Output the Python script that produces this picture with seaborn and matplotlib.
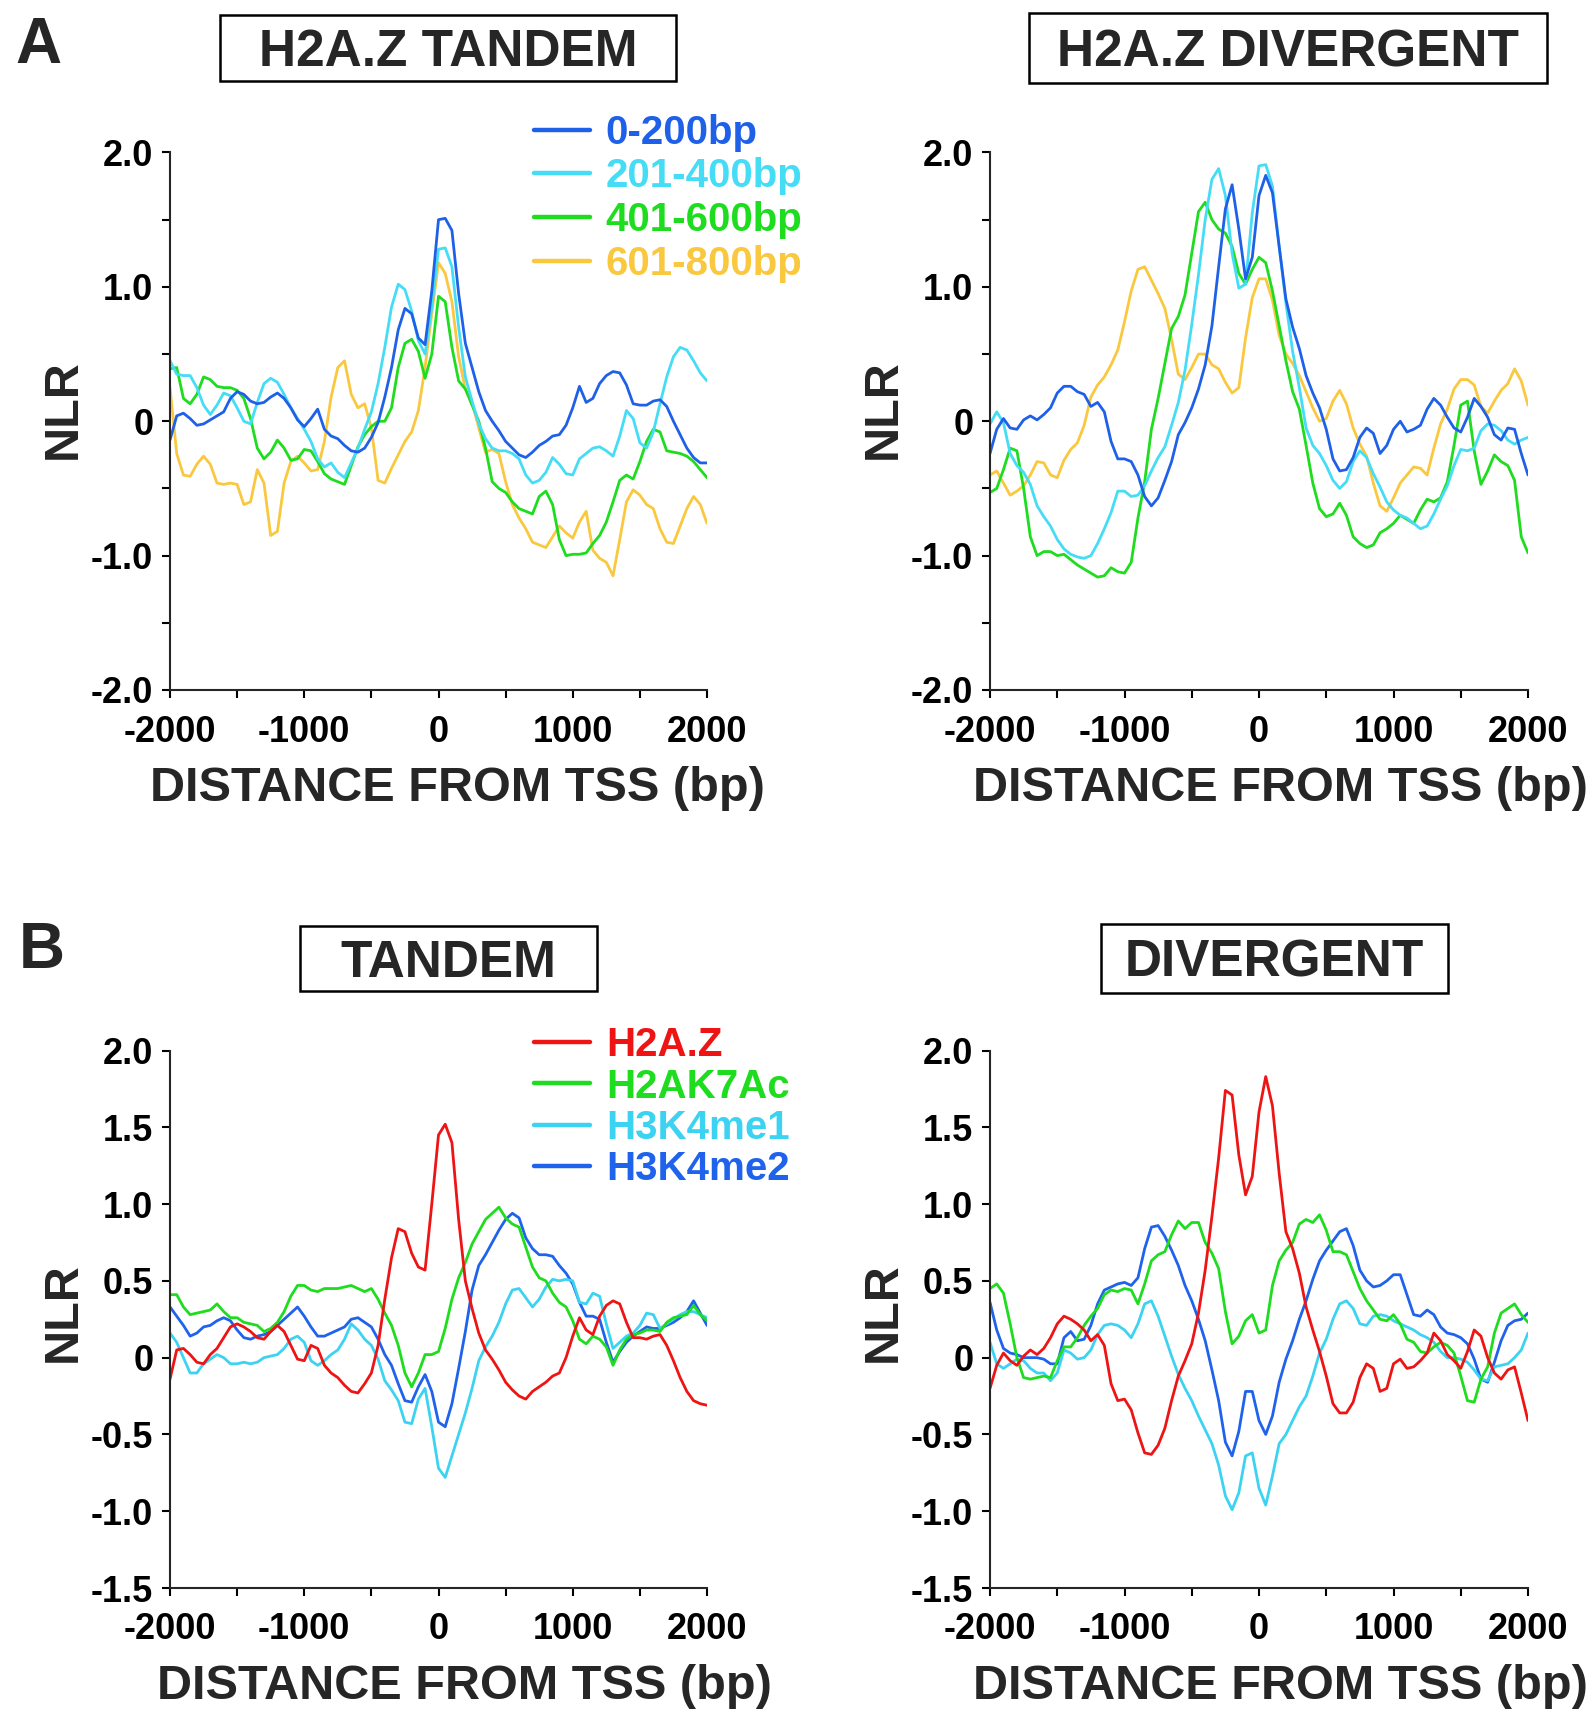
import numpy as np
import pandas as pd
import matplotlib
matplotlib.use("Agg")
import matplotlib.pyplot as plt
import seaborn as sns
from matplotlib.lines import Line2D
from matplotlib.patches import Rectangle

# ---------------- data (NLR vs distance from TSS, 50 bp steps) ----------------
distance = list(range(-2000, 2001, 50))

# Panel A - H2A.Z TANDEM (by intergenic distance)
a_tandem_0_200 = [
    -0.14, 0.04, 0.06, 0.02, -0.03, -0.02, 0.01, 0.04, 0.07, 0.17,
    0.22, 0.20, 0.15, 0.13, 0.14, 0.18, 0.21, 0.17, 0.10, 0.01,
    -0.04, 0.02, 0.09, -0.06, -0.11, -0.13, -0.18, -0.22, -0.23, -0.20,
    -0.12, -0.01, 0.18, 0.40, 0.68, 0.84, 0.80, 0.62, 0.57, 0.97,
    1.50, 1.51, 1.42, 0.95, 0.58, 0.40, 0.22, 0.08, 0.00, -0.07,
    -0.15, -0.20, -0.25, -0.27, -0.23, -0.18, -0.15, -0.11, -0.10, -0.03,
    0.10, 0.26, 0.14, 0.17, 0.28, 0.34, 0.37, 0.36, 0.27, 0.13,
    0.12, 0.12, 0.15, 0.16, 0.11, 0.00, -0.10, -0.20, -0.27, -0.31,
    -0.31]
a_tandem_201_400 = [
    0.45, 0.35, 0.34, 0.34, 0.25, 0.12, 0.05, 0.12, 0.21, 0.19,
    0.10, 0.00, -0.02, 0.14, 0.28, 0.32, 0.29, 0.20, 0.10, 0.02,
    -0.06, -0.15, -0.28, -0.34, -0.31, -0.38, -0.42, -0.31, -0.20, -0.06,
    0.07, 0.28, 0.55, 0.85, 1.02, 0.98, 0.82, 0.60, 0.50, 0.85,
    1.28, 1.29, 1.15, 0.70, 0.33, 0.15, -0.02, -0.13, -0.20, -0.22,
    -0.22, -0.24, -0.28, -0.40, -0.46, -0.44, -0.38, -0.27, -0.32, -0.39,
    -0.40, -0.28, -0.24, -0.20, -0.19, -0.22, -0.26, -0.11, 0.08, 0.02,
    -0.16, -0.20, -0.08, 0.13, 0.33, 0.48, 0.55, 0.53, 0.45, 0.36,
    0.30]
a_tandem_401_600 = [
    0.39, 0.40, 0.17, 0.13, 0.20, 0.33, 0.31, 0.26, 0.25, 0.25,
    0.23, 0.17, 0.02, -0.20, -0.28, -0.23, -0.14, -0.20, -0.29, -0.28,
    -0.21, -0.22, -0.30, -0.39, -0.43, -0.45, -0.47, -0.33, -0.19, -0.10,
    -0.04, 0.00, 0.00, 0.10, 0.40, 0.58, 0.61, 0.52, 0.32, 0.50,
    0.93, 0.89, 0.55, 0.30, 0.24, 0.12, 0.00, -0.20, -0.45, -0.50,
    -0.53, -0.60, -0.65, -0.67, -0.69, -0.56, -0.52, -0.62, -0.88, -1.00,
    -0.99, -0.99, -0.98, -0.91, -0.85, -0.75, -0.60, -0.44, -0.40, -0.43,
    -0.30, -0.15, -0.06, -0.08, -0.22, -0.23, -0.24, -0.26, -0.30, -0.36,
    -0.42]
a_tandem_601_800 = [
    0.25, -0.24, -0.40, -0.41, -0.32, -0.26, -0.32, -0.46, -0.47, -0.46,
    -0.47, -0.62, -0.60, -0.36, -0.46, -0.85, -0.82, -0.46, -0.30, -0.26,
    -0.31, -0.37, -0.36, -0.15, 0.18, 0.40, 0.45, 0.20, 0.10, 0.13,
    -0.05, -0.44, -0.46, -0.35, -0.25, -0.15, -0.08, 0.08, 0.40, 0.80,
    1.18, 1.10, 0.89, 0.48, 0.24, 0.14, -0.05, -0.23, -0.21, -0.24,
    -0.45, -0.62, -0.72, -0.80, -0.90, -0.92, -0.94, -0.86, -0.78, -0.83,
    -0.87, -0.75, -0.67, -0.96, -1.02, -1.05, -1.15, -0.88, -0.60, -0.51,
    -0.55, -0.62, -0.65, -0.80, -0.90, -0.91, -0.78, -0.65, -0.56, -0.62,
    -0.76]

# Panel A - H2A.Z DIVERGENT
a_div_0_200 = [
    -0.24, -0.06, 0.02, -0.05, -0.06, 0.01, 0.04, 0.01, 0.05, 0.10,
    0.21, 0.26, 0.26, 0.22, 0.20, 0.11, 0.14, 0.07, -0.15, -0.28,
    -0.28, -0.30, -0.40, -0.56, -0.63, -0.57, -0.44, -0.30, -0.10, -0.01,
    0.10, 0.24, 0.42, 0.71, 1.15, 1.58, 1.76, 1.43, 1.06, 1.22,
    1.68, 1.83, 1.70, 1.30, 0.91, 0.70, 0.54, 0.34, 0.21, 0.10,
    -0.06, -0.28, -0.37, -0.36, -0.27, -0.12, -0.05, -0.09, -0.24, -0.18,
    -0.06, 0.00, -0.08, -0.06, -0.03, 0.09, 0.17, 0.12, 0.03, -0.05,
    -0.08, 0.03, 0.17, 0.11, 0.03, -0.10, -0.14, -0.05, -0.06, -0.24,
    -0.40]
a_div_201_400 = [
    -0.02, 0.07, -0.01, -0.24, -0.33, -0.38, -0.47, -0.63, -0.71, -0.78,
    -0.88, -0.95, -0.99, -1.01, -1.02, -1.00, -0.91, -0.80, -0.68, -0.52,
    -0.52, -0.56, -0.55, -0.48, -0.37, -0.27, -0.19, -0.03, 0.14, 0.38,
    0.72, 1.09, 1.50, 1.80, 1.88, 1.68, 1.25, 0.99, 1.02, 1.55,
    1.90, 1.91, 1.75, 1.30, 0.88, 0.52, 0.25, -0.05, -0.18, -0.24,
    -0.33, -0.44, -0.50, -0.45, -0.30, -0.22, -0.27, -0.39, -0.49, -0.60,
    -0.66, -0.70, -0.72, -0.76, -0.80, -0.78, -0.69, -0.58, -0.48, -0.33,
    -0.21, -0.22, -0.20, -0.07, -0.02, -0.03, -0.07, -0.14, -0.17, -0.14,
    -0.12]
a_div_401_600 = [
    -0.53, -0.50, -0.36, -0.20, -0.22, -0.50, -0.86, -1.00, -0.97, -0.97,
    -1.00, -0.99, -1.03, -1.07, -1.10, -1.13, -1.16, -1.15, -1.09, -1.12,
    -1.13, -1.05, -0.72, -0.45, -0.06, 0.17, 0.43, 0.69, 0.78, 0.94,
    1.25, 1.56, 1.63, 1.50, 1.43, 1.40, 1.30, 1.10, 1.02, 1.13,
    1.22, 1.18, 0.97, 0.71, 0.45, 0.22, 0.09, -0.18, -0.46, -0.65,
    -0.71, -0.69, -0.61, -0.70, -0.86, -0.91, -0.94, -0.92, -0.83, -0.80,
    -0.76, -0.70, -0.73, -0.76, -0.66, -0.58, -0.60, -0.57, -0.45, -0.18,
    0.12, 0.15, -0.22, -0.47, -0.37, -0.25, -0.30, -0.33, -0.44, -0.86,
    -0.98]
a_div_601_800 = [
    -0.40, -0.37, -0.46, -0.55, -0.52, -0.48, -0.40, -0.30, -0.31, -0.40,
    -0.42, -0.29, -0.21, -0.16, -0.03, 0.18, 0.27, 0.33, 0.42, 0.53,
    0.74, 0.97, 1.13, 1.15, 1.05, 0.95, 0.84, 0.61, 0.35, 0.31,
    0.40, 0.50, 0.50, 0.42, 0.39, 0.29, 0.21, 0.25, 0.62, 0.92,
    1.06, 1.06, 0.90, 0.64, 0.50, 0.43, 0.34, 0.22, 0.10, 0.00,
    0.02, 0.15, 0.23, 0.13, -0.05, -0.17, -0.26, -0.46, -0.63, -0.67,
    -0.57, -0.46, -0.40, -0.34, -0.35, -0.40, -0.20, -0.02, 0.09, 0.24,
    0.31, 0.31, 0.27, 0.11, 0.06, 0.15, 0.23, 0.28, 0.39, 0.30,
    0.12]

# Panel B - TANDEM (marks)
b_tandem_h2az = [
    -0.14, 0.05, 0.06, 0.02, -0.03, -0.04, 0.02, 0.06, 0.13, 0.20,
    0.22, 0.20, 0.17, 0.13, 0.12, 0.17, 0.21, 0.17, 0.08, -0.01,
    -0.02, 0.08, 0.06, -0.05, -0.10, -0.13, -0.18, -0.22, -0.23, -0.17,
    -0.10, 0.08, 0.38, 0.65, 0.84, 0.82, 0.68, 0.59, 0.57, 1.00,
    1.45, 1.52, 1.40, 0.90, 0.50, 0.32, 0.16, 0.05, -0.01, -0.08,
    -0.16, -0.21, -0.25, -0.27, -0.22, -0.19, -0.16, -0.12, -0.10, 0.00,
    0.14, 0.26, 0.18, 0.15, 0.27, 0.34, 0.37, 0.35, 0.23, 0.13,
    0.13, 0.12, 0.14, 0.15, 0.08, -0.02, -0.13, -0.22, -0.28, -0.30,
    -0.31]
b_tandem_h2ak7ac = [
    0.41, 0.41, 0.33, 0.28, 0.29, 0.30, 0.31, 0.35, 0.30, 0.26,
    0.26, 0.23, 0.22, 0.21, 0.17, 0.19, 0.23, 0.30, 0.40, 0.47,
    0.47, 0.44, 0.43, 0.45, 0.45, 0.45, 0.46, 0.47, 0.45, 0.43,
    0.45, 0.38, 0.29, 0.21, 0.08, -0.10, -0.19, -0.10, 0.02, 0.02,
    0.04, 0.19, 0.38, 0.52, 0.62, 0.74, 0.82, 0.90, 0.94, 0.98,
    0.91, 0.87, 0.85, 0.72, 0.59, 0.52, 0.50, 0.42, 0.36, 0.33,
    0.24, 0.12, 0.09, 0.14, 0.12, 0.07, -0.05, 0.05, 0.12, 0.15,
    0.16, 0.18, 0.18, 0.17, 0.23, 0.26, 0.27, 0.28, 0.34, 0.28,
    0.24]
b_tandem_h3k4me1 = [
    0.16, 0.10, 0.00, -0.10, -0.10, -0.04, -0.01, 0.02, 0.00, -0.04,
    -0.04, -0.03, -0.04, -0.03, 0.00, 0.01, 0.02, 0.06, 0.12, 0.14,
    0.10, -0.02, -0.05, -0.02, 0.02, 0.05, 0.12, 0.22, 0.18, 0.12,
    0.08, -0.01, -0.15, -0.21, -0.28, -0.42, -0.43, -0.27, -0.20, -0.45,
    -0.72, -0.78, -0.64, -0.50, -0.36, -0.20, -0.02, 0.07, 0.14, 0.23,
    0.35, 0.44, 0.45, 0.39, 0.33, 0.38, 0.46, 0.51, 0.50, 0.51,
    0.50, 0.36, 0.35, 0.42, 0.40, 0.22, 0.06, 0.10, 0.14, 0.16,
    0.21, 0.29, 0.28, 0.19, 0.22, 0.25, 0.28, 0.30, 0.30, 0.28,
    0.26]
b_tandem_h3k4me2 = [
    0.33, 0.27, 0.21, 0.14, 0.16, 0.20, 0.21, 0.24, 0.26, 0.24,
    0.18, 0.13, 0.12, 0.14, 0.15, 0.17, 0.21, 0.25, 0.29, 0.33,
    0.27, 0.20, 0.14, 0.14, 0.16, 0.18, 0.20, 0.25, 0.26, 0.23,
    0.20, 0.12, 0.02, -0.05, -0.17, -0.28, -0.29, -0.19, -0.11, -0.22,
    -0.42, -0.45, -0.30, -0.07, 0.17, 0.44, 0.60, 0.67, 0.75, 0.83,
    0.90, 0.94, 0.91, 0.78, 0.71, 0.67, 0.67, 0.66, 0.60, 0.55,
    0.48, 0.36, 0.27, 0.27, 0.25, 0.10, -0.03, 0.04, 0.10, 0.14,
    0.17, 0.20, 0.19, 0.19, 0.21, 0.23, 0.26, 0.30, 0.37, 0.29,
    0.21]

# Panel B - DIVERGENT (marks)
b_div_h2az = [
    -0.20, -0.05, 0.03, -0.02, -0.05, 0.01, 0.05, 0.02, 0.06, 0.13,
    0.22, 0.27, 0.25, 0.22, 0.18, 0.11, 0.15, 0.08, -0.17, -0.28,
    -0.27, -0.34, -0.49, -0.62, -0.63, -0.57, -0.46, -0.28, -0.12, -0.02,
    0.09, 0.29, 0.57, 0.92, 1.30, 1.74, 1.71, 1.32, 1.06, 1.18,
    1.60, 1.83, 1.64, 1.20, 0.82, 0.71, 0.55, 0.33, 0.18, 0.04,
    -0.12, -0.30, -0.36, -0.36, -0.29, -0.13, -0.04, -0.07, -0.22, -0.20,
    -0.04, -0.01, -0.07, -0.06, -0.02, 0.03, 0.16, 0.11, 0.02, -0.02,
    -0.07, 0.04, 0.18, 0.14, 0.00, -0.10, -0.14, -0.08, -0.06, -0.23,
    -0.41]
b_div_h2ak7ac = [
    0.45, 0.48, 0.42, 0.22, 0.00, -0.13, -0.14, -0.13, -0.12, -0.13,
    -0.02, 0.07, 0.07, 0.13, 0.21, 0.27, 0.32, 0.41, 0.44, 0.43,
    0.45, 0.44, 0.35, 0.48, 0.63, 0.67, 0.69, 0.80, 0.89, 0.84,
    0.88, 0.88, 0.75, 0.68, 0.58, 0.30, 0.09, 0.14, 0.24, 0.28,
    0.16, 0.18, 0.47, 0.63, 0.70, 0.75, 0.87, 0.90, 0.88, 0.93,
    0.83, 0.69, 0.69, 0.67, 0.56, 0.45, 0.37, 0.31, 0.25, 0.24,
    0.28, 0.22, 0.12, 0.10, 0.04, 0.03, 0.07, 0.10, 0.08, 0.03,
    -0.12, -0.28, -0.29, -0.14, -0.06, 0.16, 0.29, 0.32, 0.35, 0.28,
    0.23]
b_div_h3k4me1 = [
    0.10, -0.04, -0.07, -0.04, -0.01, -0.02, -0.07, -0.10, -0.10, -0.15,
    -0.10, 0.05, 0.03, -0.01, 0.00, 0.05, 0.15, 0.21, 0.22, 0.21,
    0.18, 0.13, 0.22, 0.35, 0.37, 0.27, 0.14, 0.01, -0.11, -0.20,
    -0.28, -0.38, -0.47, -0.56, -0.70, -0.90, -0.99, -0.88, -0.64, -0.62,
    -0.85, -0.96, -0.77, -0.56, -0.50, -0.41, -0.32, -0.25, -0.12, 0.03,
    0.12, 0.25, 0.35, 0.37, 0.32, 0.22, 0.21, 0.27, 0.28, 0.27,
    0.24, 0.22, 0.20, 0.18, 0.15, 0.13, 0.10, 0.04, 0.00, 0.00,
    -0.01, -0.03, -0.08, -0.14, -0.15, -0.06, -0.05, -0.04, 0.00, 0.05,
    0.16]
b_div_h3k4me2 = [
    0.36, 0.18, 0.06, 0.03, 0.02, 0.00, 0.00, 0.00, -0.01, -0.04,
    -0.04, 0.13, 0.17, 0.11, 0.12, 0.21, 0.35, 0.44, 0.46, 0.48,
    0.49, 0.47, 0.52, 0.71, 0.85, 0.86, 0.79, 0.70, 0.60, 0.47,
    0.37, 0.25, 0.11, -0.08, -0.28, -0.55, -0.64, -0.48, -0.22, -0.22,
    -0.41, -0.50, -0.38, -0.16, -0.01, 0.11, 0.25, 0.37, 0.51, 0.63,
    0.70, 0.76, 0.82, 0.84, 0.73, 0.57, 0.50, 0.46, 0.47, 0.50,
    0.54, 0.54, 0.41, 0.28, 0.27, 0.31, 0.28, 0.20, 0.16, 0.15,
    0.13, 0.09, -0.01, -0.14, -0.16, -0.03, 0.11, 0.21, 0.24, 0.25,
    0.29]

labels_a = ["0-200bp", "201-400bp", "401-600bp", "601-800bp"]
labels_b = ["H2A.Z", "H2AK7Ac", "H3K4me1", "H3K4me2"]
titles = ["H2A.Z TANDEM", "H2A.Z DIVERGENT", "TANDEM", "DIVERGENT"]

BLUE, CYAN, GREEN, YELLOW, RED = "#1F60E8", "#45DCF6", "#1EDC1E", "#FAC83E", "#EE1414"
colors_a = dict(zip(labels_a, [BLUE, CYAN, GREEN, YELLOW]))
colors_b = dict(zip(labels_b, [RED, GREEN, "#3CD3F2", "#1F62EC"]))

# ---------------- style ----------------
sns.set_style("ticks")
plt.rcParams["font.family"] = ["Liberation Sans", "DejaVu Sans"]
plt.rcParams["font.weight"] = "bold"
plt.rcParams["axes.linewidth"] = 1.5

W, H = 1590, 1710
fig = plt.figure(figsize=(W / 100, H / 100), dpi=100)


def rect_px(l, r, t, b):
    return [l / W, 1 - b / H, (r - l) / W, (b - t) / H]


def title_box(l, r, t, b, text):
    fig.patches.append(Rectangle((l / W, 1 - b / H), (r - l) / W, (b - t) / H,
                                 transform=fig.transFigure, fill=False,
                                 edgecolor="black", linewidth=1.8))
    fs = 37
    cap = 0.716 * fs * 100 / 72
    yc = (t + b) / 2
    fig.text((l + r) / 2 / W, 1 - (yc + cap / 2) / H, text, ha="center",
             va="baseline", fontsize=fs, fontweight="bold")


def panel(rect, names, values, colors, ylim, yticks, ylabels, xlab_x, ylab_y, xpad):
    ax = fig.add_axes(rect)
    df = pd.concat([pd.DataFrame({"distance": distance, "NLR": v, "series": n})
                    for n, v in zip(names, values)], ignore_index=True)
    sns.lineplot(data=df, x="distance", y="NLR", hue="series",
                 hue_order=names[::-1], palette=colors, legend=False,
                 linewidth=2.0, estimator=None, ax=ax)
    ax.set_xlim(-2000, 2000)
    ax.set_ylim(*ylim)
    ax.set_xticks(list(range(-2000, 2001, 500)))
    ax.set_xticklabels(["-2000", "", "-1000", "", "0", "", "1000", "", "2000"])
    ax.set_yticks(yticks)
    ax.set_yticklabels(ylabels)
    sns.despine(ax=ax)
    ax.tick_params(axis="both", direction="out", length=6, width=1.5,
                   labelsize=26, colors="black")
    ax.tick_params(axis="x", pad=xpad)
    ax.tick_params(axis="y", pad=6)
    for lab in ax.get_xticklabels() + ax.get_yticklabels():
        lab.set_fontweight("bold")
    ax.set_xlabel("DISTANCE FROM TSS (bp)", fontsize=35, fontweight="bold", va="center")
    ax.xaxis.set_label_coords(xlab_x, -0.183)
    ax.set_ylabel("NLR", fontsize=35, fontweight="bold", va="center")
    ax.yaxis.set_label_coords(-0.199, ylab_y)
    return ax


def add_legend(ax, names, colors, anchor, spacing):
    handles = [Line2D([0], [0], color=colors[n], lw=3.2) for n in names]
    leg = ax.legend(handles, names, loc="upper left", bbox_to_anchor=anchor,
                    frameon=False, handlelength=1.4,
                    handletextpad=0.38, labelspacing=spacing, borderpad=0,
                    borderaxespad=0, prop={"weight": "bold", "size": 29})
    for t, n in zip(leg.get_texts(), names):
        t.set_color(colors[n])


ya_ticks = [-2.0, -1.5, -1.0, -0.5, 0.0, 0.5, 1.0, 1.5, 2.0]
ya_labels = ["-2.0", "", "-1.0", "", "0", "", "1.0", "", "2.0"]
yb_ticks = [-1.5, -1.0, -0.5, 0.0, 0.5, 1.0, 1.5, 2.0]
yb_labels = ["-1.5", "-1.0", "-0.5", "0", "0.5", "1.0", "1.5", "2.0"]

ax1 = panel(rect_px(170, 707, 152.5, 690), labels_a,
            [a_tandem_0_200, a_tandem_201_400, a_tandem_401_600, a_tandem_601_800],
            colors_a, (-2, 2), ya_ticks, ya_labels, 0.535, 0.522, 12)
add_legend(ax1, labels_a, colors_a, (0.678, 1.072), 0.14)

ax2 = panel(rect_px(990, 1528, 152.5, 690), labels_a,
            [a_div_0_200, a_div_201_400, a_div_401_600, a_div_601_800],
            colors_a, (-2, 2), ya_ticks, ya_labels, 0.539, 0.522, 12)

ax3 = panel(rect_px(170, 707, 1050.5, 1588), labels_b,
            [b_tandem_h2az, b_tandem_h2ak7ac, b_tandem_h3k4me1, b_tandem_h3k4me2],
            colors_b, (-1.5, 2), yb_ticks, yb_labels, 0.549, 0.513, 11)
add_legend(ax3, labels_b, colors_b, (0.678, 1.045), 0.08)

ax4 = panel(rect_px(990, 1528, 1050.5, 1588), labels_b,
            [b_div_h2az, b_div_h2ak7ac, b_div_h3k4me1, b_div_h3k4me2],
            colors_b, (-1.5, 2), yb_ticks, yb_labels, 0.539, 0.513, 11)

title_box(220, 676, 15, 81, titles[0])
title_box(1029, 1547, 13, 83, titles[1])
title_box(300, 597, 926, 991, titles[2])
title_box(1101, 1448, 924, 993, titles[3])

fig.text(38 / W, 1 - 63 / H, "A", ha="center", va="baseline", fontsize=46, fontweight="bold")
fig.text(42 / W, 1 - 968 / H, "B", ha="center", va="baseline", fontsize=46, fontweight="bold")

fig.savefig("out.png", dpi=100)
